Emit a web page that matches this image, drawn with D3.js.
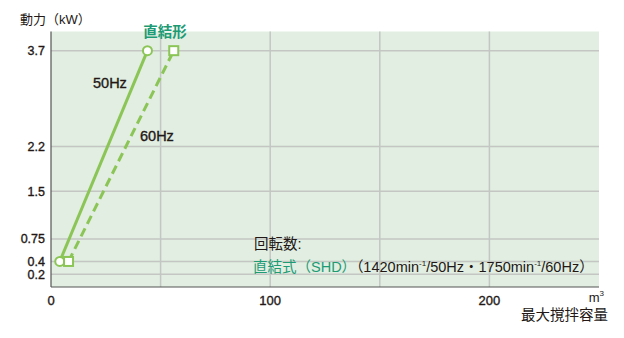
<!DOCTYPE html>
<html>
<head>
<meta charset="utf-8">
<script src="https://cdn.jsdelivr.net/npm/d3@7"></script>
<style>
  body { margin: 0; background: #fff; }
  svg { display: block; font-family: "Liberation Sans", "Noto Sans CJK JP", sans-serif; }
  .bold-ish { stroke: #231815; stroke-width: 0.35px; }
</style>
</head>
<body>
<div id="chart"></div>
<script>
// data
const series = ["50Hz", "60Hz"];
const volume50 = [4, 44];
const power50 = [0.4, 3.7];
const volume60 = [8, 56];
const power60 = [0.4, 3.7];
const yTicks = [0.2, 0.4, 0.75, 1.5, 2.2, 3.7];
const xTicks = [0, 100, 200];
const xGrid = [50, 100, 150, 200];

const W = 624, H = 338;
const plotL = 51, plotR = 599, plotT = 31.5, plotB = 287;

const svg = d3.select("#chart").append("svg").attr("width", W).attr("height", H);

const x = d3.scaleLinear().domain([0, 250]).range([plotL, plotR]);
const y = d3.scaleLinear().domain([0, 4]).range([plotB, plotT]);

const green = "#8bc556";
const teal = "#1c9b74";
const ink = "#231815";

svg.append("rect")
  .attr("x", plotL).attr("y", plotT)
  .attr("width", plotR - plotL).attr("height", plotB - plotT)
  .attr("fill", "#e1eee1");

// grid
svg.append("g").selectAll("line").data(yTicks).enter().append("line")
  .attr("x1", plotL).attr("x2", plotR)
  .attr("y1", (d) => y(d)).attr("y2", (d) => y(d))
  .attr("stroke", "#c3c6c3").attr("stroke-width", 1.5);
svg.append("g").selectAll("line").data(xGrid).enter().append("line")
  .attr("x1", (d) => x(d)).attr("x2", (d) => x(d))
  .attr("y1", plotT).attr("y2", plotB)
  .attr("stroke", "#c3c6c3").attr("stroke-width", 1.5);

// axes lines
svg.append("line").attr("x1", plotL).attr("x2", plotL).attr("y1", plotT).attr("y2", plotB)
  .attr("stroke", "#555").attr("stroke-width", 1.2);
svg.append("line").attr("x1", plotL).attr("x2", plotR).attr("y1", plotB).attr("y2", plotB)
  .attr("stroke", "#555").attr("stroke-width", 1.2);

// tick labels
svg.append("g").selectAll("text").data(yTicks).enter().append("text")
  .attr("class", "bold-ish")
  .attr("x", 45).attr("y", (d) => y(d)).attr("dy", "0.35em")
  .attr("text-anchor", "end").attr("font-size", 12.5).attr("fill", ink)
  .text((d) => d);
svg.append("g").selectAll("text").data(xTicks).enter().append("text")
  .attr("class", "bold-ish")
  .attr("x", (d) => x(d)).attr("y", 300)
  .attr("dy", "0.35em").attr("text-anchor", "middle")
  .attr("font-size", 13).attr("fill", ink)
  .text((d) => d);

// lines
const line = d3.line().x((d) => x(d[0])).y((d) => y(d[1]));
const pts50 = volume50.map((v, i) => [v, power50[i]]);
const pts60 = volume60.map((v, i) => [v, power60[i]]);

svg.append("path").datum(pts50).attr("d", line)
  .attr("fill", "none").attr("stroke", green).attr("stroke-width", 3);
svg.append("path").datum(pts60).attr("d", line)
  .attr("fill", "none").attr("stroke", green).attr("stroke-width", 3)
  .attr("stroke-dasharray", "9,5");

svg.append("g").selectAll("circle").data(pts50).enter().append("circle")
  .attr("cx", (d) => x(d[0])).attr("cy", (d) => y(d[1])).attr("r", 4.5)
  .attr("fill", "#fff").attr("stroke", green).attr("stroke-width", 2);
svg.append("g").selectAll("rect").data(pts60).enter().append("rect")
  .attr("x", (d) => x(d[0]) - 4.5).attr("y", (d) => y(d[1]) - 4.5)
  .attr("width", 9).attr("height", 9)
  .attr("fill", "#fff").attr("stroke", green).attr("stroke-width", 2);

// labels
svg.append("text").attr("x", 20).attr("y", 24).attr("font-size", 13).attr("fill", ink)
  .text("動力（kW）");
svg.append("text").attr("x", 165).attr("y", 37).attr("text-anchor", "middle")
  .attr("font-size", 14.5).attr("font-weight", "bold").attr("fill", teal).text("直結形");
svg.append("text").attr("class", "bold-ish").attr("x", 93).attr("y", 88)
  .attr("font-size", 14.5).attr("fill", ink).text(series[0]);
svg.append("text").attr("class", "bold-ish").attr("x", 140).attr("y", 141)
  .attr("font-size", 14.5).attr("fill", ink).text(series[1]);

svg.append("text").attr("x", 254).attr("y", 249).attr("font-size", 14.5).attr("fill", ink).text("回転数:");
const note = svg.append("text").attr("x", 253).attr("y", 272).attr("font-size", 14.5).attr("fill", ink);
note.append("tspan").attr("fill", teal).text("直結式（SHD）");
note.append("tspan").text("（1420min");
note.append("tspan").attr("font-size", 8).attr("dy", -6).text("-1");
note.append("tspan").attr("dy", 6).text("/50Hz・1750min");
note.append("tspan").attr("font-size", 8).attr("dy", -6).text("-1");
note.append("tspan").attr("dy", 6).text("/60Hz）");

const unit = svg.append("text").attr("x", 604).attr("y", 302).attr("text-anchor", "end")
  .attr("font-size", 13).attr("fill", ink);
unit.append("tspan").text("m");
unit.append("tspan").attr("font-size", 8).attr("dy", -6).text("3");
svg.append("text").attr("x", 608).attr("y", 320).attr("text-anchor", "end")
  .attr("font-size", 14.5).attr("fill", ink).text("最大撹拌容量");
</script>
</body>
</html>
